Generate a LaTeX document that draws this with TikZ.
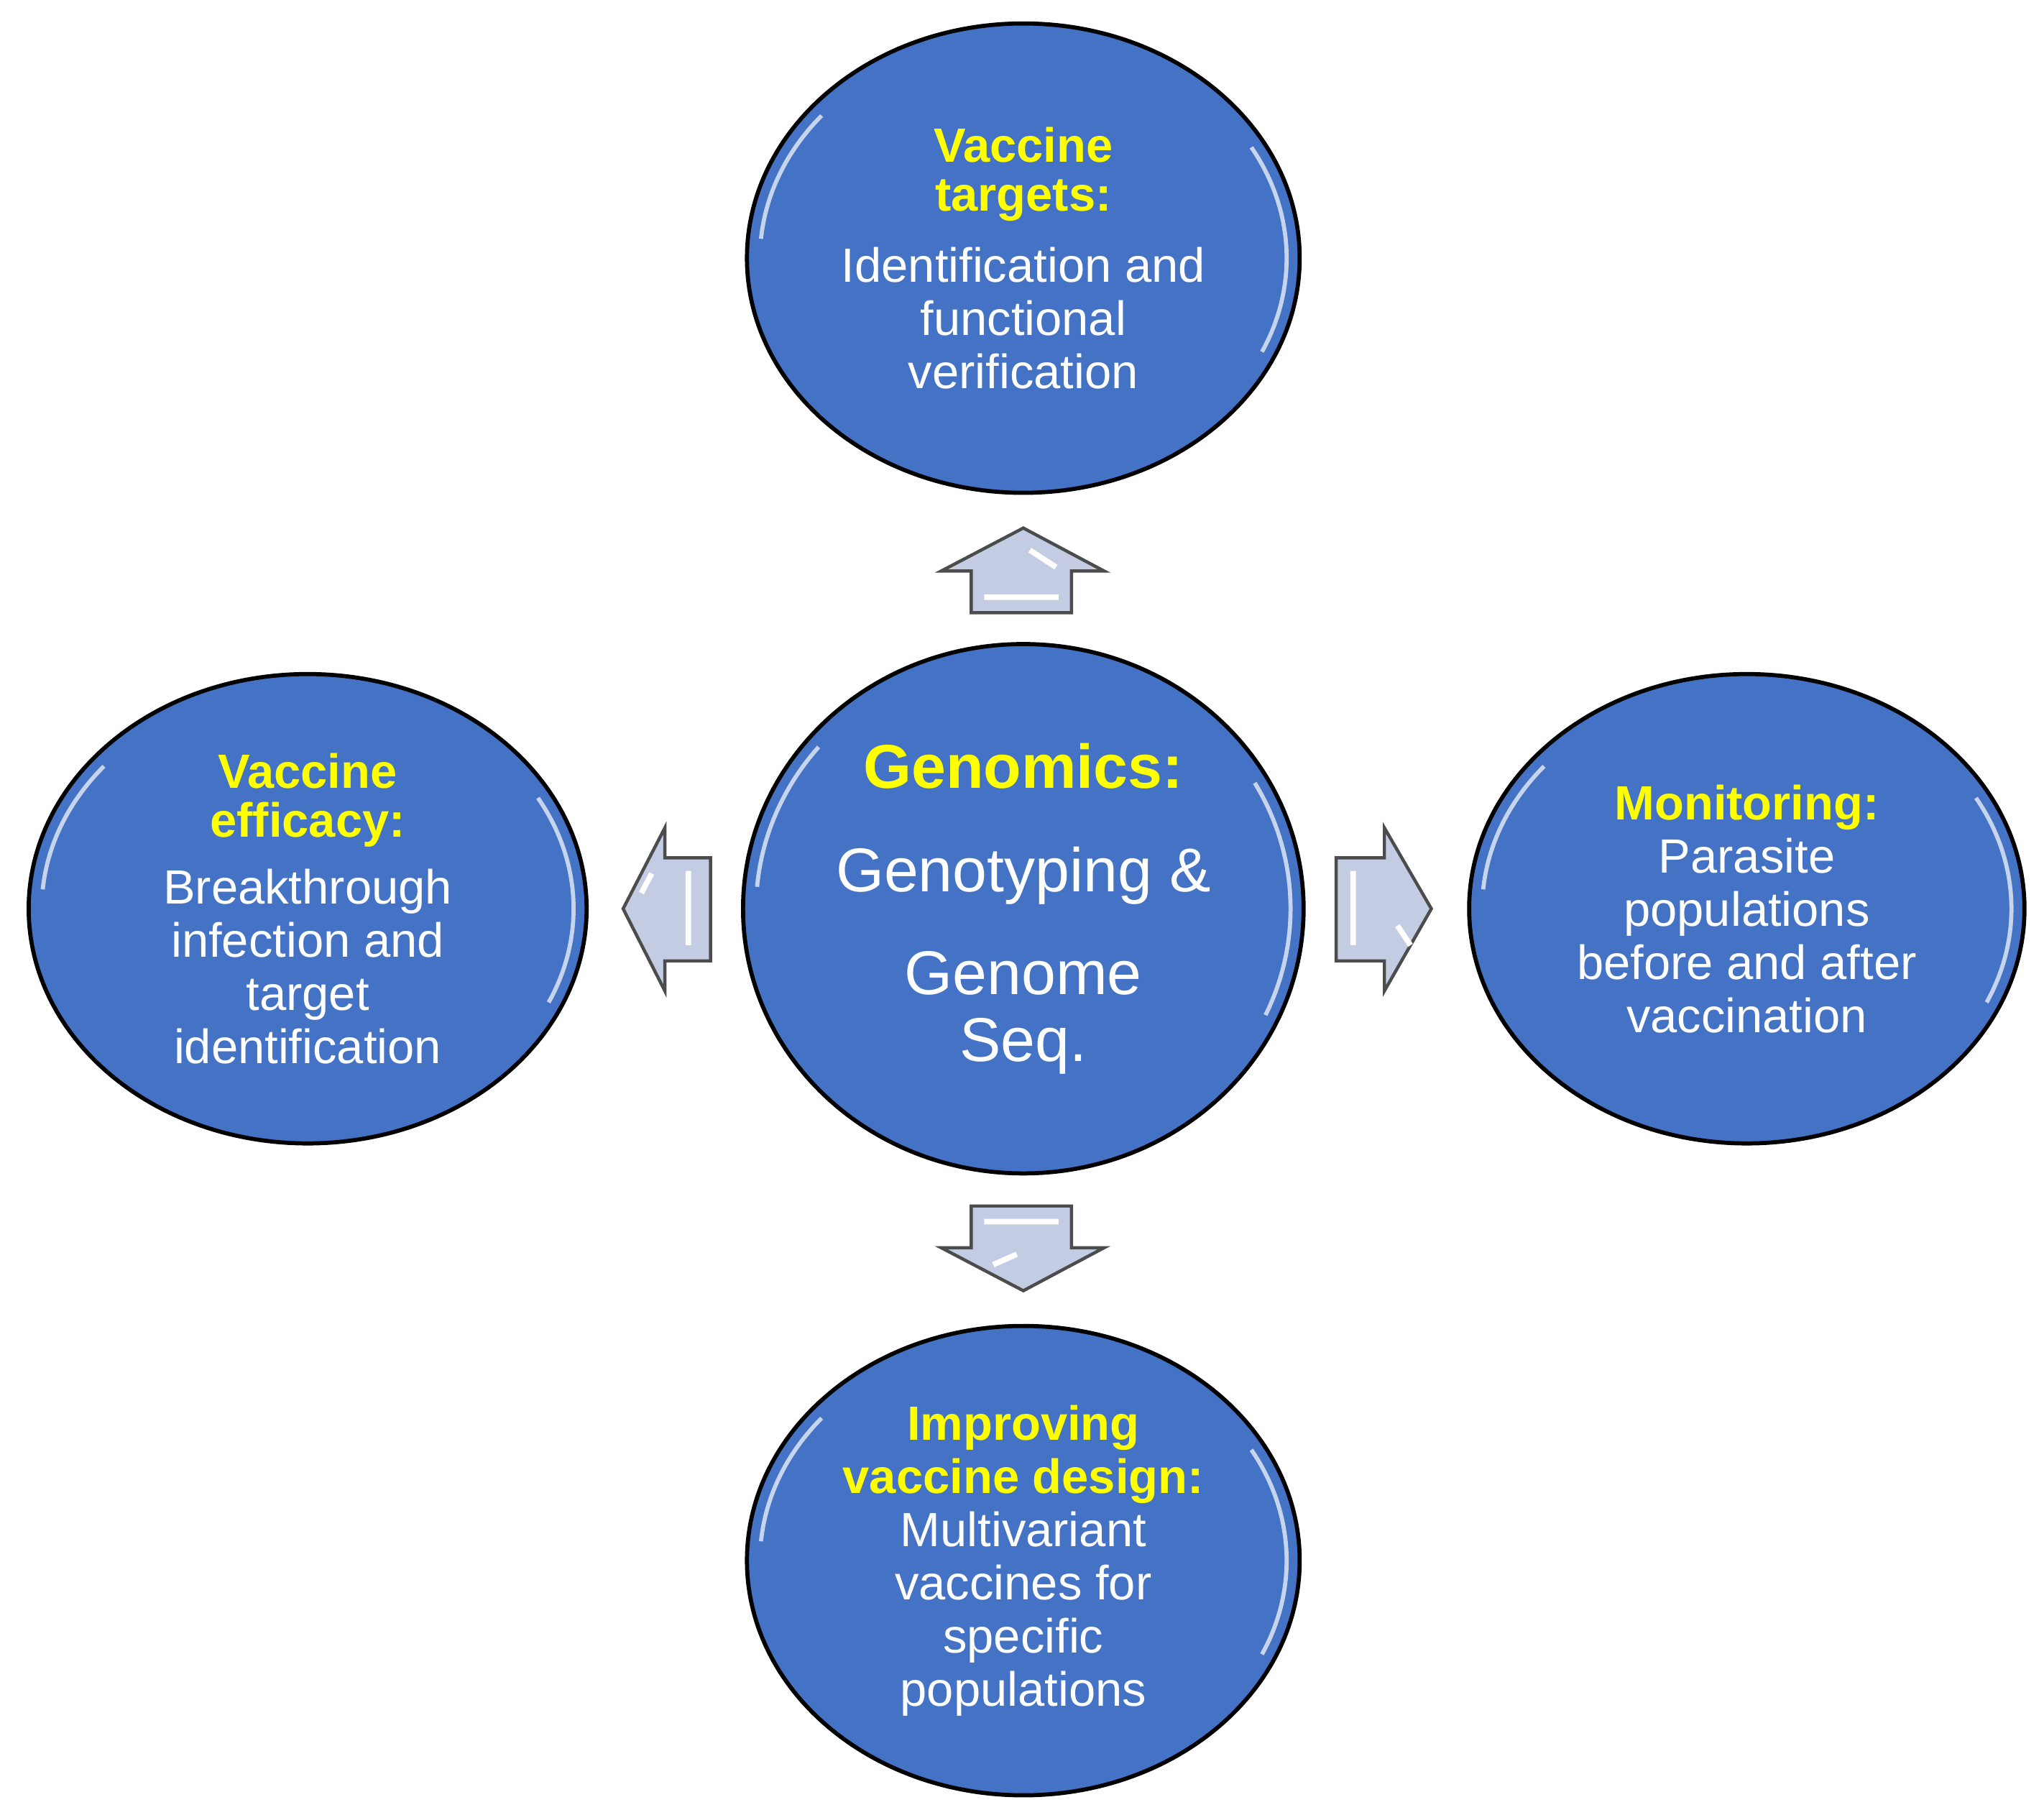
\documentclass[tikz,border=0pt]{standalone}
\usepackage{fontspec}
\setmainfont{Liberation Sans}
\usetikzlibrary{shapes.geometric}
\definecolor{bub}{HTML}{4472C4}
\definecolor{arw}{HTML}{C3CCE2}
\definecolor{ttl}{HTML}{FFFF00}
\tikzset{
 bubble/.style={ellipse,draw=black,line width=0.9pt,fill=bub,text=white,align=center,inner sep=0pt,font=\fontsize{10.5}{11.6}\selectfont},
 arr/.style={draw=black!70,line width=0.7pt,fill=arw,line join=miter},
 glow/.style={white,line width=0.9pt,opacity=0.7}
}
\begin{document}
\begin{tikzpicture}[x=1cm,y=1cm]
\useasboundingbox (0,0) rectangle (15.68,-13.92);
\node[bubble,minimum width=4.24cm,minimum height=3.6cm] (top) at (7.85,-1.98) {\textcolor{ttl}{\bfseries Vaccine}\\[-1pt]\textcolor{ttl}{\bfseries targets:}\\[4pt]Identification and\\functional\\verification};
\node[bubble,minimum width=4.3cm,minimum height=4.06cm,font=\fontsize{13.5}{14.5}\selectfont] (ctr) at (7.85,-6.97) {\textcolor{ttl}{\bfseries Genomics:}\\[8pt]Genotyping \&\\[8pt]Genome\\Seq.};
\node[bubble,minimum width=4.28cm,minimum height=3.6cm] (lft) at (2.36,-6.97) {\textcolor{ttl}{\bfseries Vaccine}\\[-1pt]\textcolor{ttl}{\bfseries efficacy:}\\[3pt]Breakthrough\\infection and\\target\\identification};
\node[bubble,minimum width=4.26cm,minimum height=3.6cm] (rgt) at (13.40,-6.97) {\textcolor{ttl}{\bfseries Monitoring:}\\Parasite\\populations\\before and after\\vaccination};
\node[bubble,minimum width=4.24cm,minimum height=3.6cm] (bot) at (7.85,-11.97) {\textcolor{ttl}{\bfseries Improving}\\\textcolor{ttl}{\bfseries vaccine design:}\\Multivariant\\vaccines for\\specific\\populations};
\foreach \cx/\cy/\rx/\ry in {7.85/-1.98/2.12/1.8, 7.85/-6.97/2.15/2.03, 2.36/-6.97/2.14/1.8, 13.40/-6.97/2.13/1.8, 7.85/-11.97/2.12/1.8}{
 \draw[glow] ([shift={(-25:\rx-0.1 and \ry-0.1)}]\cx,\cy) arc[start angle=-25,end angle=30,x radius=\rx-0.1,y radius=\ry-0.1];
 \draw[glow] ([shift={(140:\rx-0.1 and \ry-0.1)}]\cx,\cy) arc[start angle=140,end angle=175,x radius=\rx-0.1,y radius=\ry-0.1];
}
\draw[arr] (7.45,-4.70) -- (7.45,-4.38) -- (7.22,-4.38) -- (7.85,-4.05) -- (8.47,-4.38) -- (8.22,-4.38) -- (8.22,-4.70) -- cycle;
\draw[arr] (7.45,-9.25) -- (7.45,-9.57) -- (7.22,-9.57) -- (7.85,-9.90) -- (8.47,-9.57) -- (8.22,-9.57) -- (8.22,-9.25) -- cycle;
\draw[arr] (5.45,-6.58) -- (5.10,-6.58) -- (5.10,-6.35) -- (4.78,-6.97) -- (5.10,-7.60) -- (5.10,-7.37) -- (5.45,-7.37) -- cycle;
\draw[arr] (10.25,-6.58) -- (10.62,-6.58) -- (10.62,-6.35) -- (10.98,-6.97) -- (10.62,-7.60) -- (10.62,-7.37) -- (10.25,-7.37) -- cycle;
\draw[white,line width=1.2pt] (7.55,-4.58) -- (8.12,-4.58) (7.90,-4.22) -- (8.10,-4.35);
\draw[white,line width=1.2pt] (7.55,-9.37) -- (8.12,-9.37) (7.62,-9.70) -- (7.80,-9.62);
\draw[white,line width=1.2pt] (5.28,-6.68) -- (5.28,-7.25) (4.92,-6.85) -- (5.00,-6.70);
\draw[white,line width=1.2pt] (10.38,-6.68) -- (10.38,-7.25) (10.72,-7.10) -- (10.82,-7.25);
\end{tikzpicture}
\end{document}
